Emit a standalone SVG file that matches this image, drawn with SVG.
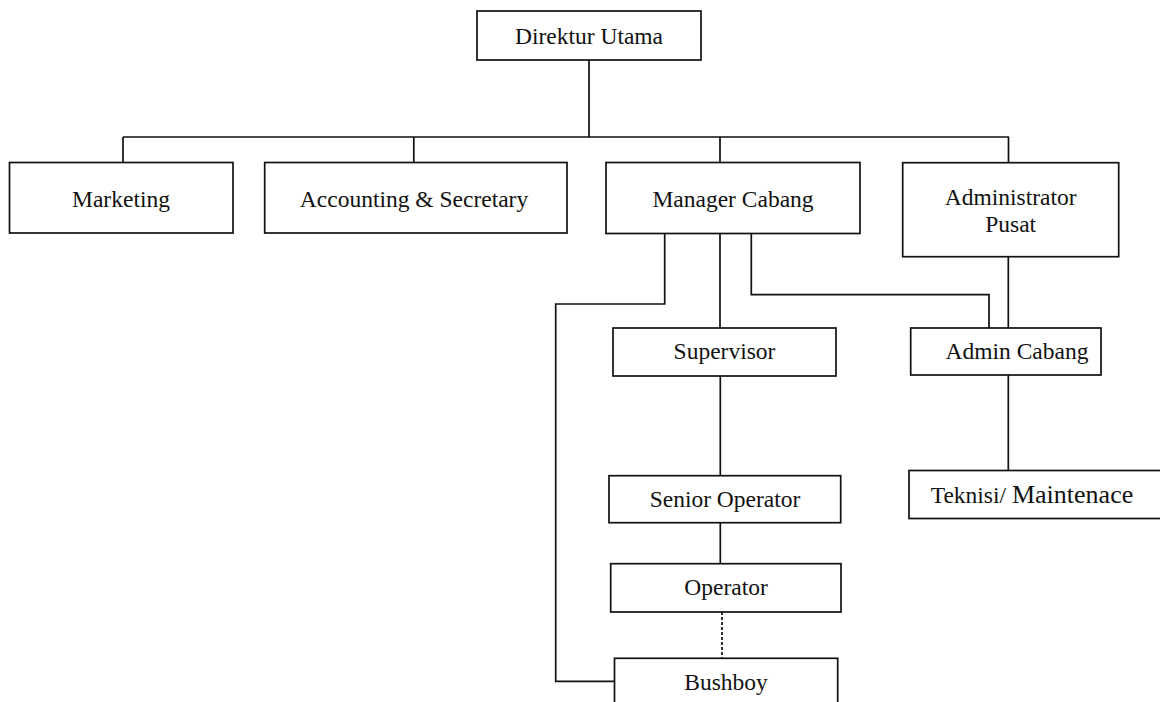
<svg xmlns="http://www.w3.org/2000/svg" width="1160" height="702" viewBox="0 0 1160 702">
<style>
.box{fill:#fff;stroke:#111;stroke-width:1.7}
.ln{fill:none;stroke:#111;stroke-width:1.7}
.dot{fill:none;stroke:#111;stroke-width:1.7;stroke-dasharray:3 2}
text{font-family:"Liberation Serif","Times New Roman",serif;font-size:23.5px;fill:#111;text-anchor:middle}
</style>
<rect width="1160" height="702" fill="#fff"/>
<g id="connectors">
<path class="ln" d="M589,60 V137 M123,137 H1009 M123,137 V162.5 M413.8,137 V162.5 M720,137 V162.5 M1008.5,137 V162.5"/>
<path class="ln" d="M664.7,233.5 V304 H555.7 V681.3 H614.5"/>
<path class="ln" d="M720,233.5 V328"/>
<path class="ln" d="M751.3,233.5 V294.7 H989 V328"/>
<path class="ln" d="M1008.3,256.7 V328"/>
<path class="ln" d="M1008.3,375 V470.5"/>
<path class="ln" d="M720.3,376 V475.7"/>
<path class="ln" d="M720.3,522.7 V563.7"/>
<path class="dot" d="M722,612 V658.3"/>
</g>
<g id="direktur"><rect class="box" x="477" y="11" width="224" height="49"/><text x="589" y="44">Direktur Utama</text></g>
<g id="marketing"><rect class="box" x="9.5" y="162.5" width="223.5" height="70.5"/><text x="121" y="207">Marketing</text></g>
<g id="accounting"><rect class="box" x="264.7" y="162.5" width="302.3" height="70.5"/><text x="414" y="207">Accounting &amp; Secretary</text></g>
<g id="manager"><rect class="box" x="606" y="162.5" width="254" height="71"/><text x="733" y="207">Manager Cabang</text></g>
<g id="adminpusat"><rect class="box" x="902.7" y="162.7" width="216" height="94"/><text x="1010.7" y="205">Administrator</text><text x="1010.7" y="232">Pusat</text></g>
<g id="supervisor"><rect class="box" x="613" y="328" width="223" height="48"/><text x="724.5" y="359">Supervisor</text></g>
<g id="admincabang"><rect class="box" x="910.7" y="328" width="190.3" height="47"/><text x="1017" y="359">Admin Cabang</text></g>
<g id="teknisi"><rect class="box" x="909" y="470.5" width="270" height="48"/><text x="930.7" y="503" style="text-anchor:start">Teknisi/ <tspan style="font-size:26px">Maintenace</tspan></text></g>
<g id="senior"><rect class="box" x="609" y="475.7" width="231.7" height="47"/><text x="725" y="506.7">Senior Operator</text></g>
<g id="operator"><rect class="box" x="610.7" y="563.7" width="230.3" height="48.3"/><text x="726" y="595">Operator</text></g>
<g id="bushboy"><rect class="box" x="614.5" y="658.3" width="223.2" height="60"/><text x="726" y="690">Bushboy</text></g>
</svg>
